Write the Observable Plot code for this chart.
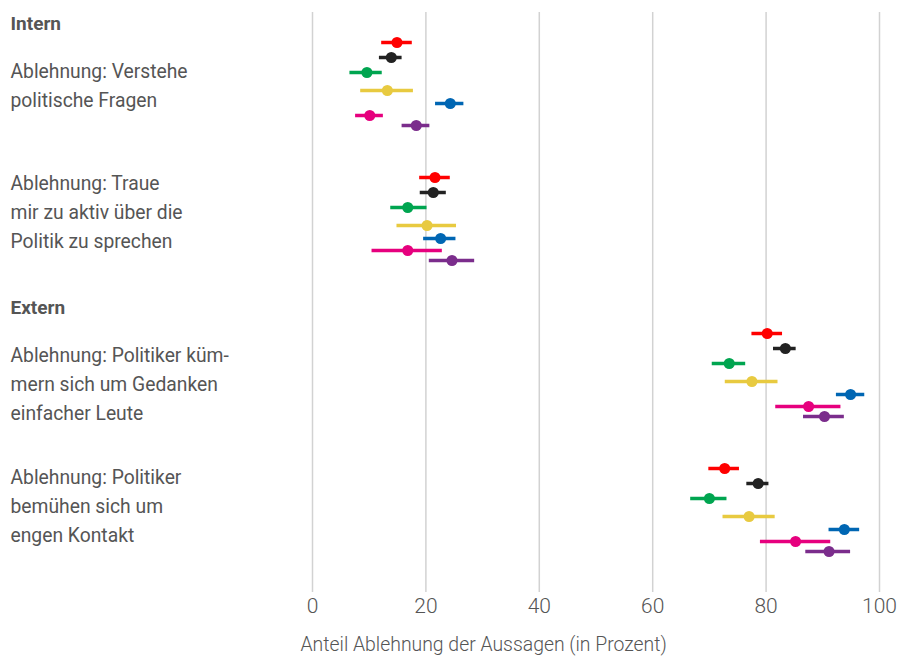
<!DOCTYPE html>
<html>
<head>
<meta charset="utf-8">
<script src="https://cdn.jsdelivr.net/npm/d3@7"></script>
<script src="https://cdn.jsdelivr.net/npm/@observablehq/plot@0.6"></script>
<style>
  html, body { margin: 0; padding: 0; background: #fff; }
  #chart { width: 914px; height: 657px; }
</style>
</head>
<body>
<div id="chart"></div>
<script>
// ---- data ----
const series = ["Rot", "Schwarz", "Grün", "Gelb", "Blau", "Pink", "Lila"];
const questions = [
  "Ablehnung: Verstehe\npolitische Fragen",
  "Ablehnung: Traue\nmir zu aktiv über die\nPolitik zu sprechen",
  "Ablehnung: Politiker küm-\nmern sich um Gedanken\neinfacher Leute",
  "Ablehnung: Politiker\nbemühen sich um\nengen Kontakt"
];
const sections = ["Intern", "Extern"];
const estimate = [
  [14.9, 13.9, 9.6, 13.2, 24.3, 10.1, 18.3],
  [21.6, 21.3, 16.8, 20.2, 22.6, 16.8, 24.6],
  [80.2, 83.4, 73.5, 77.5, 94.9, 87.5, 90.3],
  [72.7, 78.6, 70.0, 77.0, 93.8, 85.2, 91.1]
];
const lower = [
  [12.2, 11.8, 6.6, 8.5, 21.7, 7.6, 15.8],
  [18.9, 19.0, 13.8, 14.9, 19.6, 10.5, 20.6],
  [77.5, 81.3, 70.5, 72.8, 92.4, 81.7, 86.6],
  [69.9, 76.6, 66.7, 72.4, 91.1, 79.0, 87.0]
];
const upper = [
  [17.6, 15.8, 12.3, 17.8, 26.7, 12.5, 20.7],
  [24.3, 23.6, 20.2, 25.4, 25.3, 22.9, 28.6],
  [82.9, 85.3, 76.4, 82.1, 97.4, 93.2, 93.8],
  [75.3, 80.5, 73.1, 81.6, 96.5, 91.4, 94.9]
];
const xTicks = [0, 20, 40, 60, 80, 100];
const xLabel = "Anteil Ablehnung der Aussagen (in Prozent)";

// ---- layout (vertical slots) ----
const groupTop = [42, 177, 333, 468];
const seriesOffset = [0, 15, 30, 48, 61, 73, 83];
const labelCenter = [82.5, 209, 381, 503];
const sectionY = [23, 307];
const palette = ["#ff0000", "#222222", "#00a550", "#e8ca40", "#0066b3", "#e6007e", "#7b2d8c"];

const rows = [];
questions.forEach((q, qi) => {
  series.forEach((s, si) => {
    rows.push({
      question: q, series: s,
      est: estimate[qi][si], lo: lower[qi][si], hi: upper[qi][si],
      y: groupTop[qi] + seriesOffset[si]
    });
  });
});
const labelRows = questions.map((q, i) => ({text: q, y: labelCenter[i]}));
const sectionRows = sections.map((s, i) => ({text: s, y: sectionY[i]}));

const font = "Roboto, 'Liberation Sans', sans-serif";

const chart = Plot.plot({
  width: 914,
  height: 657,
  marginLeft: 312,
  marginRight: 35,
  marginTop: 12,
  marginBottom: 65,
  style: {fontFamily: font, background: "#fff"},
  x: {domain: [0, 100], axis: null},
  y: {domain: [12, 592], reverse: true, axis: null},
  color: {domain: series, range: palette},
  marks: [
    Plot.ruleX(xTicks, {stroke: "#d2d2d2", strokeWidth: 1.5}),
    Plot.axisX(xTicks, {
      tickSize: 0, tickPadding: 6, fontSize: 21, fill: "#555",
      fontWeight: 300, label: null
    }),
    Plot.ruleY(rows, {y: "y", x1: "lo", x2: "hi", stroke: "series", strokeWidth: 3.5}),
    Plot.dot(rows, {x: "est", y: "y", fill: "series", r: 5.5}),
    Plot.text(labelRows, {
      text: "text", y: "y", frameAnchor: "left", dx: -302, textAnchor: "start",
      lineAnchor: "middle", lineHeight: 1.5, fontSize: 19.3, fill: "#555"
    }),
    Plot.text(sectionRows, {
      text: "text", y: "y", frameAnchor: "left", dx: -302, textAnchor: "start",
      lineAnchor: "middle", fontSize: 19, fontWeight: "bold", fill: "#555"
    }),
    Plot.text([xLabel], {
      text: d => d, frameAnchor: "bottom-left", dx: -12, dy: 52,
      textAnchor: "start", lineAnchor: "middle", fontSize: 19.4, fill: "#555", fontWeight: 300
    })
  ]
});
document.getElementById("chart").appendChild(chart);
</script>
</body>
</html>
